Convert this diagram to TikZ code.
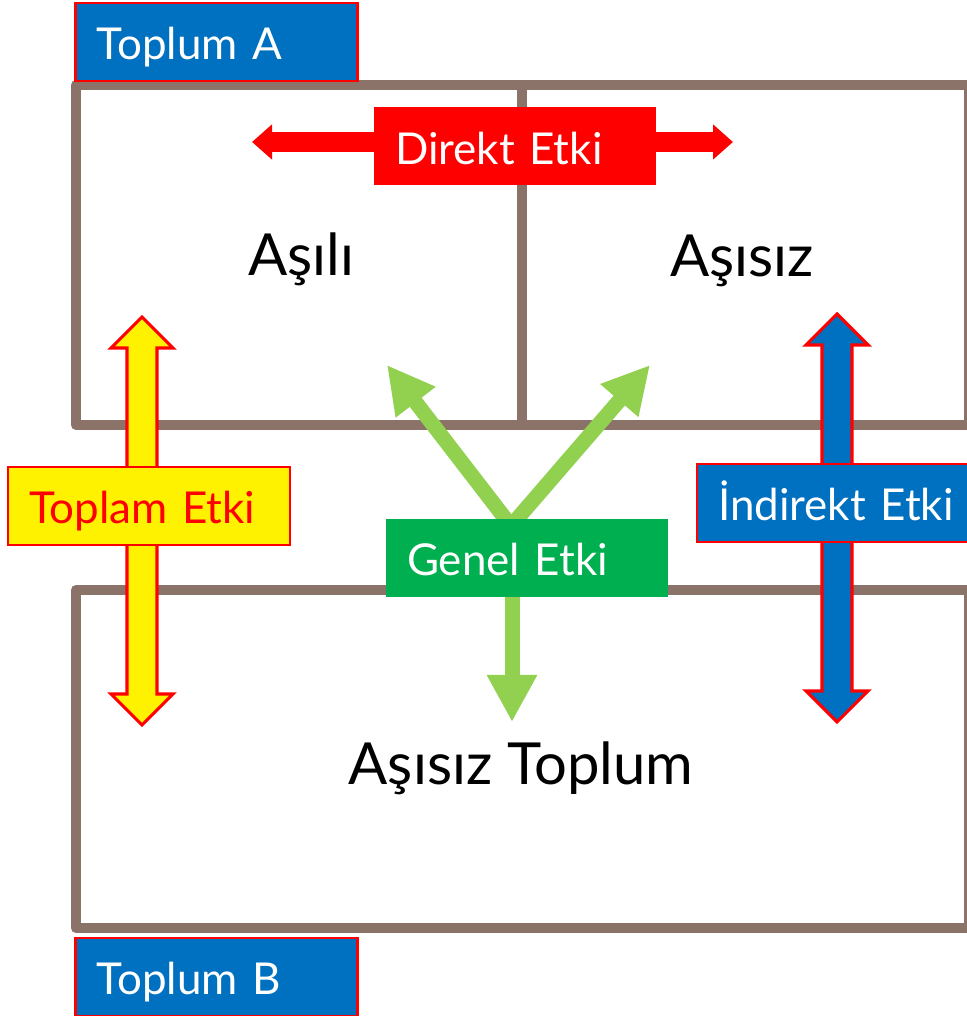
\documentclass[tikz,border=0pt]{standalone}
\usepackage{fontspec}
\setmainfont{Lato}
\usepackage{tikz}
\usetikzlibrary{positioning}
\usetikzlibrary{calc}
\usetikzlibrary{arrows.meta}

\definecolor{kahve}{RGB}{140,115,105}
\definecolor{mavi}{HTML}{0070C0}
\definecolor{yesil}{HTML}{00B050}
\definecolor{acikyesil}{HTML}{92D050}

\newcommand{\kalinok}[3]{%
  \draw[red, line width=0.9pt, fill=#3]
    (#1) -- ++(-0.31,-0.31) -- ++(0.16,0) -- ($(#2)+(-0.15,0.31)$)
    -- ++(-0.16,0) -- (#2) -- ++(0.31,0.31) -- ++(-0.16,0)
    -- ($(#1)+(0.15,-0.31)$) -- ++(0.16,0) -- cycle;}

\begin{document}
\begin{tikzpicture}[
    cerceve/.style={kahve, line width=0.1cm, line join=round},
    etiket/.style={
        minimum height=0.78cm,
        text width=2.4cm,
        inner xsep=0.21cm,
        inner ysep=0pt,
        text height=10pt,
        text depth=0pt,
        align=left,
        font=\fontsize{12.5}{14}\selectfont
    },
    buyuk/.style={anchor=base, font=\fontsize{16.5}{20}\selectfont},
    direkt ok/.style={
        red, line width=0.2cm,
        {Triangle[width=0.34cm,length=0.2cm]}-{Triangle[width=0.34cm,length=0.2cm]}
    },
    genel ok/.style={
        acikyesil, line width=0.15cm,
        -{Triangle[width=0.47cm,length=0.47cm]}
    }
]
\useasboundingbox (0,0) rectangle (9.67,10.16);

\draw[cerceve] (0.76,5.91) rectangle (9.69,9.31);
\draw[cerceve] (5.22,9.31) -- (5.22,5.91);
\draw[cerceve] (0.76,0.88) rectangle (9.69,4.26);

\coordinate (dl) at (2.52,8.74);
\coordinate (dr) at (7.33,8.74);
\coordinate (tu) at (1.42,6.99);
\coordinate (td) at (1.42,2.91);
\coordinate (iu) at (8.37,7.02);
\coordinate (id) at (8.37,2.94);
\coordinate (gk) at (5.11,4.90);
\coordinate (gl) at (3.87,6.51);
\coordinate (gr) at (6.50,6.51);
\coordinate (gs) at (5.12,4.19);
\coordinate (gd) at (5.12,2.94);

\draw[direkt ok] (dl) -- (dr);
\kalinok{tu}{td}{yellow}
\kalinok{iu}{id}{mavi}
\draw[genel ok] (gk) -- (gl);
\draw[genel ok] (gk) -- (gr);
\draw[genel ok] (gs) -- (gd);

\node[etiket, fill=mavi, draw=red, line width=0.6pt, text=white] (toplumA) at (2.165,9.74) {Toplum A};
\node[etiket, fill=mavi, draw=red, line width=0.6pt, text=white] (toplumB) at (2.165,0.39) {Toplum B};
\node[etiket, fill=red, text=white] (direkt) at (5.15,8.695) {Direkt Etki};
\node[etiket, fill=yellow, draw=red, line width=0.6pt, text=red] (toplam) at (1.49,5.10) {Toplam Etki};
\node[etiket, fill=mavi, draw=red, line width=0.6pt, text=white] (indirekt) at (8.38,5.13) {İndirekt Etki};
\node[etiket, fill=yesil, text=white] (genel) at (5.27,4.58) {Genel Etki};

\node[buyuk] (asili) at (3.01,7.40) {Aşılı};
\node[buyuk] (asisiz) at (7.42,7.39) {Aşısız};
\node[buyuk] (toplum) at (5.21,2.31) {Aşısız Toplum};

\end{tikzpicture}
\end{document}
